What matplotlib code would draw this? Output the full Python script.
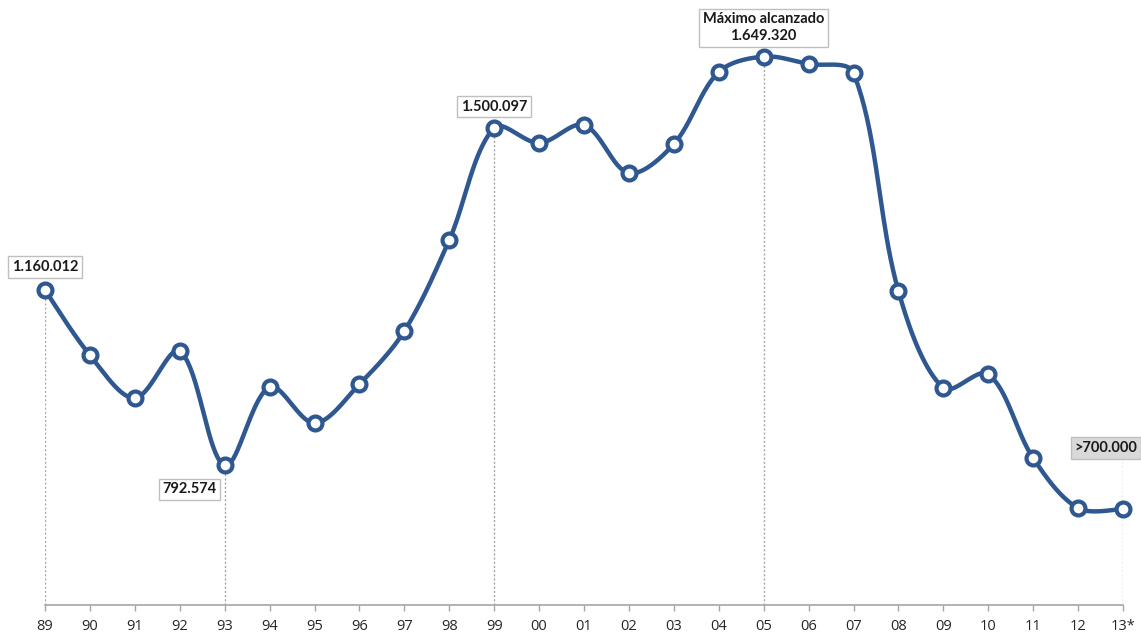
import numpy as np
import matplotlib
matplotlib.use("Agg")
import matplotlib.pyplot as plt

# yearly values, 1989 .. 2013 (2013 estimated)
years = ["89", "90", "91", "92", "93", "94", "95", "96", "97", "98", "99", "00",
         "01", "02", "03", "04", "05", "06", "07", "08", "09", "10", "11", "12", "13*"]
values = [1160012, 1023700, 933600, 1032100, 792574, 956700, 881200, 962900,
          1074100, 1264800, 1500097, 1468200, 1505900, 1405300, 1466100, 1617000,
          1649320, 1633800, 1615000, 1158000, 954600, 983900, 807800, 703000, 701000]

# highlighted points: index, label text, label offset (px), box fill
callouts = [
    (0, "1.160.012", (0, 23), "white"),
    (4, "792.574", (-35, -24), "white"),
    (10, "1.500.097", (0, 21), "white"),
    (16, "Máximo alcanzado\n1.649.320", (0, 29), "white"),
    (24, ">700.000", (-17, 61), "#d9d9d9"),
]

LINE = "#2f5891"
YMIN, YMAX = 500000, 1726000


def smooth(xs, ys, sx, sy, n=40):
    # Catmull-Rom style Bezier; each handle is weighted by the chord length
    # of its own segment (screen units) so steep drops don't overshoot
    P = np.column_stack([np.asarray(xs, float) * sx, np.asarray(ys, float) * sy])
    m = len(P)
    hout = np.zeros_like(P)
    hin = np.zeros_like(P)
    for i in range(m):
        a = P[max(i - 1, 0)]
        b = P[min(i + 1, m - 1)]
        tg = (b - a) / 2
        lin = np.hypot(*(P[i] - a))
        lout = np.hypot(*(b - P[i]))
        if i == 0 or i == m - 1:
            hout[i] = tg / 3
            hin[i] = tg / 3
        else:
            hin[i] = tg * 2 * lin / (lin + lout) / 3
            hout[i] = tg * 2 * lout / (lin + lout) / 3
    t = np.linspace(0, 1, n, endpoint=False)[:, None]
    pts = []
    for i in range(m - 1):
        p0, p3 = P[i], P[i + 1]
        p1 = p0 + hout[i]
        p2 = p3 - hin[i + 1]
        pts.append((1 - t) ** 3 * p0 + 3 * (1 - t) ** 2 * t * p1
                   + 3 * (1 - t) * t ** 2 * p2 + t ** 3 * p3)
    pts.append(P[-1:])
    pts = np.vstack(pts)
    return pts[:, 0] / sx, pts[:, 1] / sy


W, H = 1141, 632
fig = plt.figure(figsize=(W / 100, H / 100), dpi=100)
ax = fig.add_axes([45 / W, 1 - 605 / H, 1078 / W, 585 / H])

x = np.arange(len(years))
px_per_x = 1078 / (len(years) - 1)
px_per_y = 585 / (YMAX - YMIN)
cx, cy = smooth(x, values, px_per_x, px_per_y)
ax.plot(cx, cy, color=LINE, lw=3.2, zorder=3, clip_on=False, solid_capstyle="round")
ax.plot(x, values, "o", ms=10, mfc="white", mec=LINE, mew=3, zorder=4, clip_on=False)

ax.set_xlim(0, len(years) - 1)
ax.set_ylim(YMIN, YMAX)

for i, text, (dx, dy), fc in callouts:
    top = values[i]
    if i == len(years) - 1:
        top = values[i] + 105000
    ax.plot([i, i], [YMIN, top], color="#a6a6a6", lw=1, ls=(0, (1.5, 1.5)), zorder=1)
    ax.annotate(text, (i, values[i]), xytext=(dx, dy), textcoords="offset pixels",
                ha="center", va="center", fontsize=10.5, fontweight="bold",
                family=["Lato", "DejaVu Sans"], color="#1a1a1a", linespacing=1.25,
                bbox=dict(boxstyle="square,pad=0.25", fc=fc, ec="#bfbfbf", lw=1),
                zorder=5, annotation_clip=False)

ax.set_xticks(x)
ax.set_xticklabels(years)
ax.set_yticks([])
for s in ("left", "right", "top"):
    ax.spines[s].set_visible(False)
ax.spines["bottom"].set_color("#a6a6a6")
ax.spines["bottom"].set_linewidth(1.2)
ax.tick_params(axis="x", length=4, width=1, color="#a6a6a6", pad=6,
               labelsize=10.5, labelcolor="#262626")
for lbl in ax.get_xticklabels():
    lbl.set_family(["Open Sans", "DejaVu Sans"])

fig.savefig("out.png", dpi=100, facecolor="white")
